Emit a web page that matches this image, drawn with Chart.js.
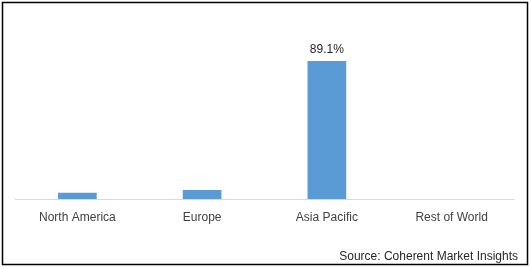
<!DOCTYPE html>
<html>
<head>
<meta charset="utf-8">
<script src="https://cdn.jsdelivr.net/npm/chart.js@4/dist/chart.umd.min.js"></script>
<style>
  html, body { margin: 0; padding: 0; background: #ffffff; }
  #wrap { position: relative; width: 531px; height: 268px; }
</style>
</head>
<body>
<div id="wrap"><canvas id="c" width="531" height="268"></canvas></div>
<script>
const categories = ["North America", "Europe", "Asia Pacific", "Rest of World"];
const shareValues = [4.1, 5.8, 89.1, 0];
const labeledIndexes = [2];
const sourceText = "Source: Coherent Market Insights";

const FONT = "'Liberation Sans', Arial, sans-serif";

const decorPlugin = {
  id: 'decor',
  afterDatasetsDraw(chart) {
    const ctx = chart.ctx;
    const meta = chart.getDatasetMeta(0);
    ctx.save();
    ctx.fillStyle = '#262626';
    ctx.font = '12px ' + FONT;
    ctx.textAlign = 'center';
    ctx.textBaseline = 'alphabetic';
    labeledIndexes.forEach(i => {
      const el = meta.data[i];
      ctx.fillText(shareValues[i].toFixed(1) + '%', el.x, el.y - 8);
    });
    ctx.restore();
  },
  afterDraw(chart) {
    const ctx = chart.ctx;
    ctx.save();
    ctx.strokeStyle = '#000000';
    ctx.lineWidth = 1.5;
    ctx.strokeRect(2.5, 2.5, 525, 262);
    ctx.fillStyle = '#262626';
    ctx.font = '12px ' + FONT;
    ctx.textAlign = 'right';
    ctx.textBaseline = 'alphabetic';
    ctx.fillText(sourceText, 518, 260);
    ctx.restore();
  }
};

new Chart(document.getElementById('c'), {
  type: 'bar',
  data: {
    labels: categories,
    datasets: [{
      data: shareValues,
      backgroundColor: '#5B9BD5',
      borderWidth: 0,
      barPercentage: 0.31,
      categoryPercentage: 1.0
    }]
  },
  options: {
    responsive: false,
    animation: false,
    devicePixelRatio: 1,
    layout: { padding: { left: 15, right: 17, top: 44, bottom: 32.6 } },
    plugins: { legend: { display: false }, tooltip: { enabled: false }, title: { display: false } },
    scales: {
      x: {
        grid: { display: false, drawTicks: false },
        border: { display: true, color: '#d9d9d9', width: 1 },
        ticks: { color: '#404040', font: { family: FONT, size: 12 }, padding: 11, maxRotation: 0 }
      },
      y: {
        display: false,
        min: 0,
        max: 100
      }
    }
  },
  plugins: [decorPlugin]
});
</script>
</body>
</html>
